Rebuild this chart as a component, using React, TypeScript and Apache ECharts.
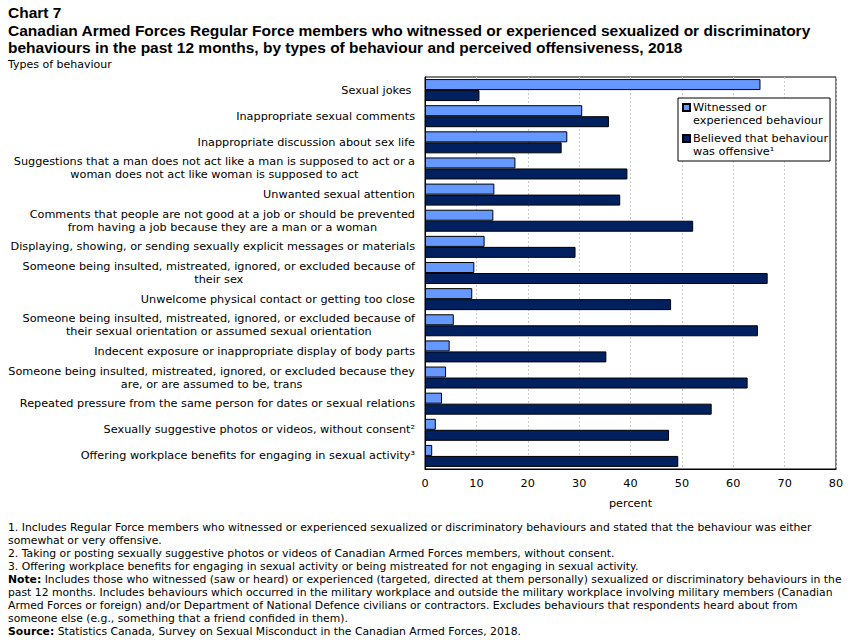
import * as echarts from "echarts"
import { useEffect, useRef } from "react"

const categories = [
  "Sexual jokes ",
  "Inappropriate sexual comments",
  "Inappropriate discussion about sex life",
  "Suggestions that a man does not act like a man is supposed to act or a\nwoman does not act like woman is supposed to act",
  "Unwanted sexual attention",
  "Comments that people are not good at a job or should be prevented\nfrom having a job because they are a man or a woman",
  "Displaying, showing, or sending sexually explicit messages or materials",
  "Someone being insulted, mistreated, ignored, or excluded because of\ntheir sex",
  "Unwelcome physical contact or getting too close",
  "Someone being insulted, mistreated, ignored, or excluded because of\ntheir sexual orientation or assumed sexual orientation",
  "Indecent exposure or inappropriate display of body parts",
  "Someone being insulted, mistreated, ignored, or excluded because they\nare, or are assumed to be, trans",
  "Repeated pressure from the same person for dates or sexual relations",
  "Sexually suggestive photos or videos, without consent\u00b2",
  "Offering workplace benefits for engaging in sexual activity\u00b3",
]

const witnessed = [65.3, 30.6, 27.7, 17.6, 13.5, 13.3, 11.6, 9.6, 9.2, 5.6, 4.8, 4.1, 3.3, 2.1, 1.4]
const offensive = [10.6, 35.8, 26.6, 39.4, 38.0, 52.2, 29.3, 66.7, 47.9, 64.8, 35.3, 62.8, 55.8, 47.5, 49.3]

const seriesNames = [
  "Witnessed or\nexperienced behaviour",
  "Believed that behaviour\nwas offensive\u00b9",
]

const titleLines = [
  "Canadian Armed Forces Regular Force members who witnessed or experienced sexualized or discriminatory",
  "behaviours in the past 12 months, by types of behaviour and perceived offensiveness, 2018",
]

const footnotes = [
  "1. Includes Regular Force members who witnessed or experienced sexualized or discriminatory behaviours and stated that the behaviour was either",
  "somewhat or very offensive.",
  "2. Taking or posting sexually suggestive photos or videos of Canadian Armed Forces members, without consent.",
  "3. Offering workplace benefits for engaging in sexual activity or being mistreated for not engaging in sexual activity.",
]

const noteLines = [
  "Includes those who witnessed (saw or heard) or experienced (targeted, directed at them personally) sexualized or discriminatory behaviours in the",
  "past 12 months. Includes behaviours which occurred in the military workplace and outside the military workplace involving military members (Canadian",
  "Armed Forces or foreign) and/or Department of National Defence civilians or contractors. Excludes behaviours that respondents heard about from",
  "someone else (e.g., something that a friend confided in them).",
]

const sourceText = "Statistics Canada, Survey on Sexual Misconduct in the Canadian Armed Forces, 2018."

const FONT = "DejaVu Sans"
const FS = 11.25
const NOTE_FS = 10.8
const TITLE_FONT = "Liberation Sans"

// legend square sits on the first text line; the trailing moves stretch the box to two lines
const LEGEND_ICON = "path://M0,3L7,3L7,10L0,10Z M0,0 M0,26"

export default function App(): React.ReactElement {
  const ref = useRef<HTMLDivElement>(null)

  useEffect(() => {
    document.body.style.margin = "0"
    const node = ref.current
    if (!node) return
    const chart = echarts.init(node, undefined, { renderer: "svg" })

    const lh = 13
    const noteTop = 522
    const bold = { b: { fontWeight: "bold", fontFamily: FONT, fontSize: NOTE_FS } }
    const texts: any[] = []
    footnotes.forEach((t, i) => {
      texts.push({
        type: "text",
        left: 8,
        top: noteTop + i * lh,
        style: { text: t, font: `${NOTE_FS}px "${FONT}"`, fill: "#000" },
      })
    })
    noteLines.forEach((t, i) => {
      texts.push({
        type: "text",
        left: 8,
        top: noteTop + (footnotes.length + i) * lh,
        style: {
          text: (i === 0 ? "{b|Note:} " : "") + t,
          font: `${NOTE_FS}px "${FONT}"`,
          fill: "#000",
          rich: bold,
        },
      })
    })
    texts.push({
      type: "text",
      left: 8,
      top: noteTop + (footnotes.length + noteLines.length) * lh,
      style: {
        text: "{b|Source:} " + sourceText,
        font: `${NOTE_FS}px "${FONT}"`,
        fill: "#000",
        rich: bold,
      },
    })

    chart.setOption({
      animation: false,
      backgroundColor: "#fff",
      textStyle: { fontFamily: FONT },
      title: [
        {
          text: "Chart 7",
          left: 8,
          top: 4,
          padding: 0,
          textStyle: { fontFamily: TITLE_FONT, fontSize: 15.5, fontWeight: "bold", color: "#000" },
        },
        {
          text: titleLines.join("\n"),
          left: 8,
          top: 22,
          padding: 0,
          textStyle: {
            fontFamily: TITLE_FONT,
            fontSize: 15.5,
            fontWeight: "bold",
            color: "#000",
            lineHeight: 17,
          },
        },
        {
          text: "Types of behaviour",
          left: 8,
          top: 59,
          padding: 0,
          textStyle: { fontFamily: FONT, fontSize: 11, fontWeight: "normal", color: "#000" },
        },
      ],
      legend: {
        orient: "vertical",
        left: 678,
        top: 98,
        backgroundColor: "#fff",
        borderColor: "#000",
        borderWidth: 1,
        borderRadius: 0,
        padding: [2, 2, 2, 4],
        itemWidth: 7,
        itemHeight: 26,
        itemGap: 3,
        icon: LEGEND_ICON,
        textStyle: { fontFamily: FONT, fontSize: FS, color: "#000", lineHeight: 13, padding: [0, 0, 0, -2] },
        data: seriesNames,
      },
      grid: { left: 425, right: 15, top: 77, bottom: 174, show: true, borderColor: "#000", borderWidth: 1 },
      xAxis: {
        type: "value",
        min: 0,
        max: 80,
        interval: 10,
        name: "percent",
        nameLocation: "middle",
        nameGap: 29,
        nameTextStyle: { fontFamily: FONT, fontSize: FS, color: "#000" },
        axisLine: { show: true, lineStyle: { color: "#000" } },
        axisTick: { show: false },
        axisLabel: { fontFamily: FONT, fontSize: FS, color: "#000", margin: 9 },
        splitLine: { show: true, lineStyle: { color: "#c8c8c8", type: [2, 2] } },
      },
      yAxis: {
        type: "category",
        data: categories,
        inverse: true,
        axisLine: { show: true, lineStyle: { color: "#000" } },
        axisTick: { show: false },
        axisLabel: {
          margin: 10,
          formatter: (v: string) =>
            v
              .split("\n")
              .map((s) => `{c|${s}}`)
              .join("\n"),
          rich: { c: { fontFamily: FONT, fontSize: FS, color: "#000", align: "center", lineHeight: 13 } },
        },
      },
      series: [
        {
          name: seriesNames[0],
          type: "bar",
          data: witnessed,
          barWidth: 11,
          barGap: "0%",
          itemStyle: { color: "#6699ff", borderColor: "#000", borderWidth: 1 },
        },
        {
          name: seriesNames[1],
          type: "bar",
          data: offensive,
          barWidth: 11,
          barGap: "0%",
          itemStyle: { color: "#002060", borderColor: "#000", borderWidth: 1 },
        },
      ],
      graphic: texts,
    })

    return () => {
      chart.dispose()
    }
  }, [])

  return <div ref={ref} style={{ width: 851, height: 643 }} />
}
